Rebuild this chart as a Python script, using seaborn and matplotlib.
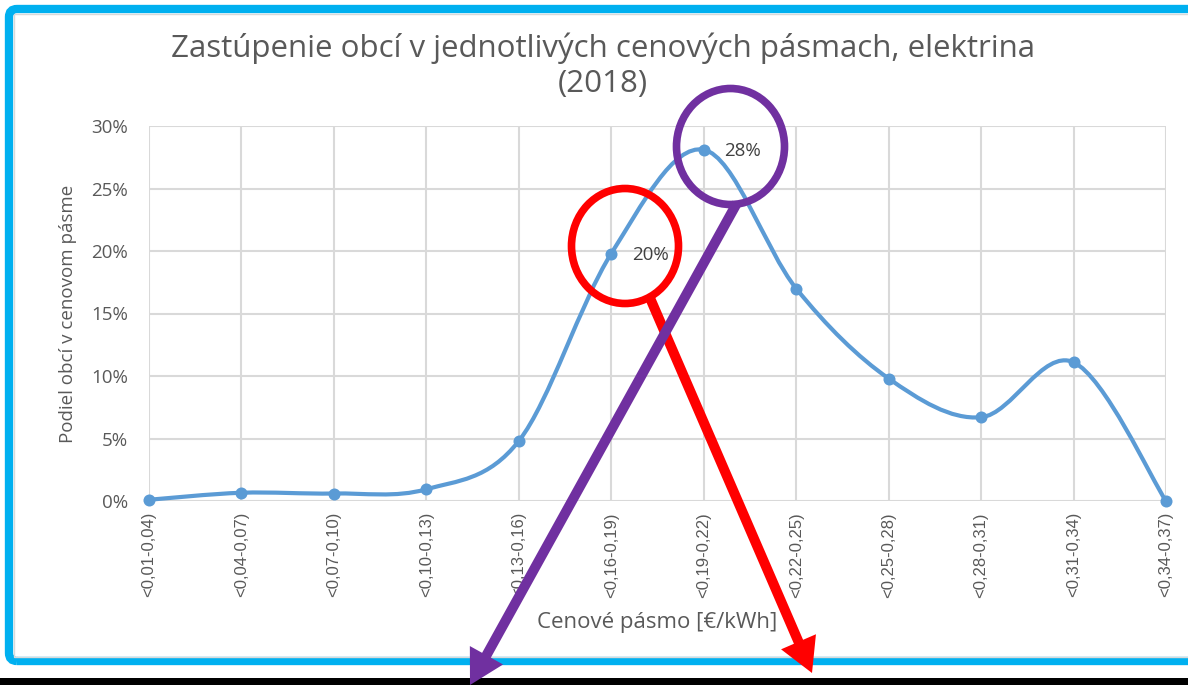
import numpy as np
import pandas as pd
import seaborn as sns
import matplotlib
matplotlib.use("Agg")
import matplotlib.pyplot as plt
from matplotlib.path import Path
from matplotlib.patches import PathPatch, Ellipse, FancyArrow, FancyBboxPatch, Rectangle
from matplotlib.transforms import IdentityTransform
from matplotlib.ticker import PercentFormatter, FixedLocator

# ---------------- data ----------------
categories = ["<0,01-0,04)", "<0,04-0,07)", "<0,07-0,10)", "<0,10-0,13)",
              "<0,13-0,16)", "<0,16-0,19)", "<0,19-0,22)", "<0,22-0,25)",
              "<0,25-0,28)", "<0,28-0,31)", "<0,31-0,34)", "<0,34-0,37)"]
shares = [0.001, 0.0066, 0.006, 0.0094, 0.048, 0.198, 0.281, 0.170,
          0.098, 0.067, 0.111, 0.0]
labelled_points = [5, 6]
y_ticks = [0, 0.05, 0.10, 0.15, 0.20, 0.25, 0.30]

title = "Zastúpenie obcí v jednotlivých cenových pásmach, elektrina\n(2018)"
x_label = "Cenové pásmo [€/kWh]"
y_label = "Podiel obcí v cenovom pásme"

LINE = "#5b9bd5"
GRID = "#d9d9d9"
TXT = "#595959"

# ---------------- figure ----------------
W, H = 1188, 685
sns.set_theme(style="white")
plt.rcParams["font.family"] = ["Open Sans", "DejaVu Sans"]
fig = plt.figure(figsize=(W / 100, H / 100), dpi=100)
fig.patch.set_facecolor("white")

ax = fig.add_axes([149 / W, 1 - 501 / H, (1166 - 149) / W, (501 - 126) / H])
df = pd.DataFrame({"idx": np.arange(len(categories)), "share": shares})

# smoothed line (Bezier through the data points, like a spreadsheet "smoothed line")
xs = df["idx"].to_numpy(dtype=float)
ys = df["share"].to_numpy(dtype=float)
n = len(xs)
verts = [(xs[0], ys[0])]
codes = [Path.MOVETO]
for i in range(n - 1):
    p0 = np.array([xs[max(i - 1, 0)], ys[max(i - 1, 0)]])
    p1 = np.array([xs[i], ys[i]])
    p2 = np.array([xs[i + 1], ys[i + 1]])
    p3 = np.array([xs[min(i + 2, n - 1)], ys[min(i + 2, n - 1)]])
    c1 = p1 + (p2 - p0) / 6.0
    c2 = p2 - (p3 - p1) / 6.0
    verts += [tuple(c1), tuple(c2), tuple(p2)]
    codes += [Path.CURVE4] * 3
ax.add_patch(PathPatch(Path(verts, codes), facecolor="none", edgecolor=LINE,
                       lw=3.0, capstyle="round", joinstyle="round", clip_on=False, zorder=3))

sns.scatterplot(data=df, x="idx", y="share", ax=ax, color=LINE, s=75,
                edgecolor=LINE, linewidth=0, zorder=4, clip_on=False, legend=False)

for i in labelled_points:
    ax.annotate(f"{shares[i]*100:.0f}%", (i, shares[i]), xytext=(15, -1),
                textcoords="offset points", ha="left", va="center",
                fontsize=13.5, color="#404040", zorder=5)

ax.set_xlim(0, len(categories) - 1)
ax.set_ylim(0, 0.30)
ax.xaxis.set_major_locator(FixedLocator(list(range(len(categories)))))
ax.set_xticklabels(categories, rotation=90, fontsize=12, color=TXT,
                   family=["Liberation Sans", "DejaVu Sans"], va="top", ha="center")
ax.set_yticks(y_ticks)
ax.yaxis.set_major_formatter(PercentFormatter(1.0, decimals=0))
for t in ax.get_yticklabels():
    t.set_fontsize(13.5)
    t.set_color(TXT)
ax.tick_params(axis="x", length=0, pad=8)
ax.tick_params(axis="y", length=0, pad=15)
ax.grid(True, color=GRID, lw=1.5)
ax.set_axisbelow(True)
for s in ax.spines.values():
    s.set_visible(False)
ax.set_xlabel(x_label, fontsize=16, color=TXT, labelpad=10)
ax.set_ylabel(y_label, fontsize=13.5, color=TXT, labelpad=10)

fig.text(603 / W, 1 - 66 / H, title, ha="center", va="center", fontsize=22.5,
         color=TXT, linespacing=1.2)

# ---------------- decorations (frame, circles, arrows) ----------------
px = IdentityTransform()

def P(x, y):
    return (x, H - y)

frame = FancyBboxPatch(P(9, 661), 1300, 652, boxstyle="round,pad=0,rounding_size=8",
                       transform=px, fill=False, edgecolor="#00b0f0", lw=6)
fig.add_artist(frame)
fig.add_artist(Rectangle(P(13.5, 656.5), 1300, 643, transform=px, fill=False,
                         edgecolor=GRID, lw=1))
fig.add_artist(Rectangle(P(-5, 685), 1300, 7, transform=px, facecolor="black",
                         edgecolor="none"))

fig.add_artist(Ellipse(P(625, 246), 107, 115, transform=px, fill=False,
                       edgecolor="#ff0000", lw=5.5, zorder=10))

def arrow(x0, y0, x1, y1, color):
    a = P(x0, y0)
    b = P(x1, y1)
    fig.add_artist(FancyArrow(a[0], a[1], b[0] - a[0], b[1] - a[1], width=10,
                              head_width=38, head_length=34, length_includes_head=True,
                              transform=px, color=color, lw=0, zorder=11))

arrow(650, 298, 812, 673, "#ff0000")
fig.add_artist(Ellipse(P(730.5, 146.5), 108, 116, transform=px, fill=False,
                       edgecolor="#7030a0", lw=5.5, zorder=12))
arrow(737, 203, 470, 685, "#7030a0")

fig.savefig("out.png", dpi=100)
